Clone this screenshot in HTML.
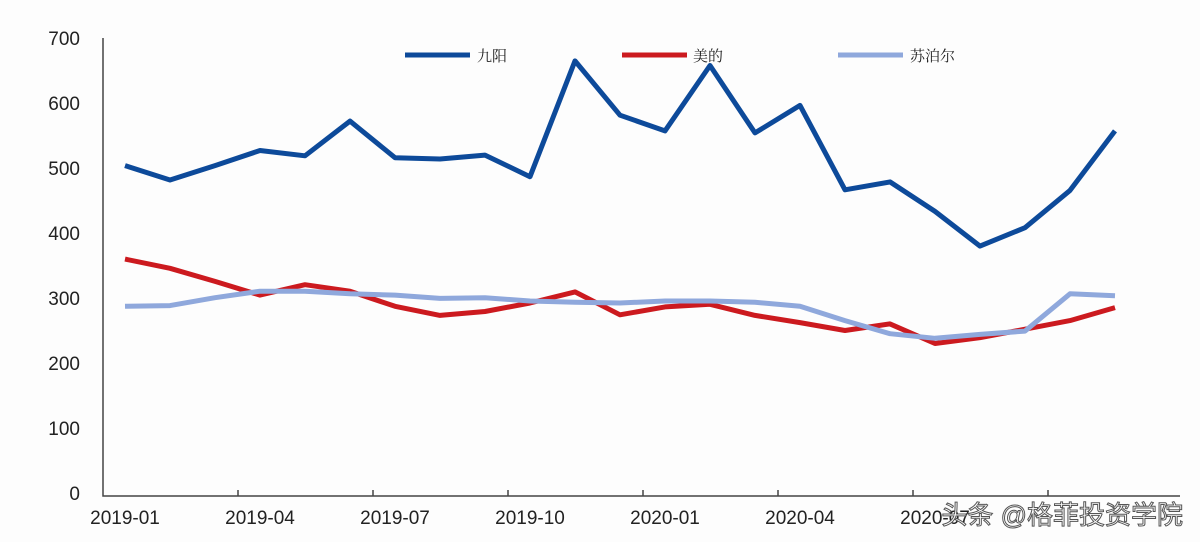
<!DOCTYPE html>
<html><head><meta charset="utf-8"><style>
body{margin:0;background:#fdfdfd;}
svg{display:block;font-family:"Liberation Sans",sans-serif;}
</style></head><body>
<svg width="1200" height="542" viewBox="0 0 1200 542">
<rect width="1200" height="542" fill="#fdfdfd"/>
<g font-size="19" fill="#222" text-anchor="end">
<text x="80" y="45">700</text><text x="80" y="110">600</text><text x="80" y="175">500</text>
<text x="80" y="240">400</text><text x="80" y="305">300</text><text x="80" y="370">200</text>
<text x="80" y="435">100</text><text x="80" y="500">0</text>
</g>
<path d="M103 38V496H1180" fill="none" stroke="#444" stroke-width="1.5"/>
<g stroke="#444" stroke-width="1.5">
<line x1="238" y1="490" x2="238" y2="496"/><line x1="373" y1="490" x2="373" y2="496"/>
<line x1="508" y1="490" x2="508" y2="496"/><line x1="643" y1="490" x2="643" y2="496"/>
<line x1="778" y1="490" x2="778" y2="496"/><line x1="913" y1="490" x2="913" y2="496"/>
<line x1="1048" y1="490" x2="1048" y2="496"/>
</g>
<g font-size="19" fill="#222" text-anchor="middle">
<text x="125" y="524">2019-01</text><text x="260" y="524">2019-04</text><text x="395" y="524">2019-07</text>
<text x="530" y="524">2019-10</text><text x="665" y="524">2020-01</text><text x="800" y="524">2020-04</text>
<text x="935" y="524">2020-07</text>
</g>
<g fill="none" stroke-width="5" stroke-linejoin="round">
<polyline id="a" stroke="#0d4a9a" points=""/>
<polyline id="b" stroke="#cc1a1f" points=""/>
<polyline id="c" stroke="#8fa8dc" points=""/>
</g>
<g stroke-width="5">
<line x1="405" y1="55" x2="470" y2="55" stroke="#0d4a9a"/>
<line x1="622" y1="55" x2="687" y2="55" stroke="#cc1a1f"/>
<line x1="838" y1="55" x2="903" y2="55" stroke="#8fa8dc"/>
</g>
<g font-size="15" fill="#222" font-family="'Noto Serif CJK SC',serif">
<text x="477" y="61">九阳</text><text x="693" y="61">美的</text><text x="910" y="61">苏泊尔</text>
</g>
<text x="1183" y="524" text-anchor="end" font-size="26" fill="#fff" stroke="#555" stroke-width="1" font-family="'Liberation Sans','Noto Sans CJK SC',sans-serif">头条 @格菲投资学院</text>
<script>
var d={a:[505,483,505,528,520,573,517,515,521,488,665,582,558,658,555,597,468,480,435,382,410,467,558],
b:[362,348,328,307,323,313,290,276,282,295,312,277,289,293,276,265,253,263,233,242,255,268,288],
c:[290,291,303,313,313,309,307,302,303,298,296,295,298,298,296,290,268,248,241,247,252,309,306]};
for(var k in d){document.getElementById(k).setAttribute('points',d[k].map(function(v,i){return (125+45*i)+','+(496-v*0.6543).toFixed(1)}).join(' '));}
</script>
</svg>
</body></html>
